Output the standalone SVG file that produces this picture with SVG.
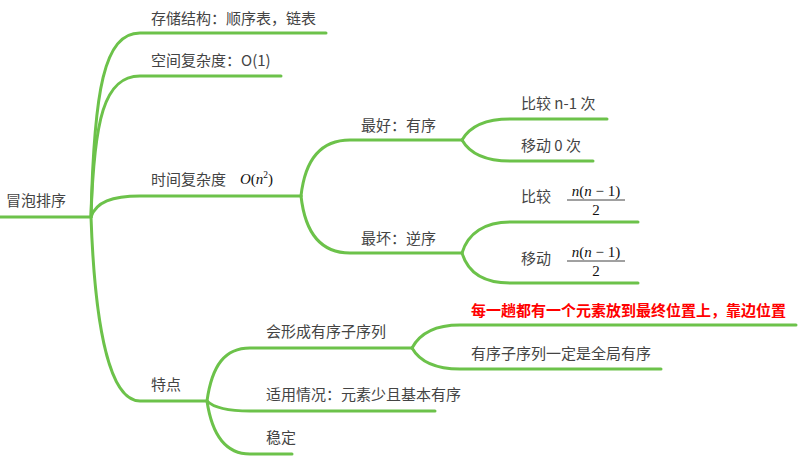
<svg xmlns="http://www.w3.org/2000/svg" width="801" height="464" viewBox="0 0 801 464">
<style>
.l{fill:none;stroke:#6cc24a;stroke-width:3;stroke-linecap:round}
.t{font-family:"Noto Sans CJK SC","Noto Sans",sans-serif;font-size:15px;fill:#444}
.r{font-family:"Noto Sans CJK SC","Noto Sans",sans-serif;font-size:15px;fill:#ff0000;font-weight:bold}
.m{font-family:"Liberation Serif","DejaVu Serif",serif;font-size:15px;fill:#111}
.mi{font-style:italic}
</style>
<rect width="801" height="464" fill="#ffffff"/>
<g id="connectors">
<path class="l" d="M0 217 H91"/>
<path class="l" d="M91 217 C94 90 104 33 140 33 H326"/>
<path class="l" d="M91 217 C94 120 104 76 140 76 H281"/>
<path class="l" d="M91 217 C96 202 112 196 140 196 H301"/>
<path class="l" d="M91 217 C95 330 110 401 140 401 H207"/>
<path class="l" d="M301 196 C305 160 320 140 350 140 H462"/>
<path class="l" d="M301 196 C305 232 320 253 350 253 H462"/>
<path class="l" d="M462 140 C470 126 485 119 510 119 H607"/>
<path class="l" d="M462 140 C470 154 485 161 510 161 H593"/>
<path class="l" d="M462 253 C468 233 485 222 510 222 H638"/>
<path class="l" d="M462 253 C468 273 485 283 510 283 H638"/>
<path class="l" d="M207 401 C212 365 225 348 250 348 H412"/>
<path class="l" d="M207 401 C214 408 228 411 250 411 H435"/>
<path class="l" d="M207 401 C212 435 225 454 250 454 H292"/>
<path class="l" d="M412 348 C420 333 435 325 460 325 H796"/>
<path class="l" d="M412 348 C420 362 435 369 460 369 H661"/>
</g>
<g id="root"><text class="t" x="6" y="206">冒泡排序</text></g>
<g id="n-storage"><text class="t" x="151" y="24">存储结构：顺序表，链表</text></g>
<g id="n-space"><text class="t" x="151" y="66">空间复杂度：O(1)</text></g>
<g id="n-time"><text class="t" x="151" y="185">时间复杂度</text>
<text class="m" x="240" y="184"><tspan class="mi">O</tspan>(<tspan class="mi">n</tspan><tspan font-size="9.5" dy="-6">2</tspan><tspan dy="6">)</tspan></text></g>
<g id="n-best"><text class="t" x="361" y="131">最好：有序</text></g>
<g id="n-worst"><text class="t" x="361" y="244">最坏：逆序</text></g>
<g id="n-best-cmp"><text class="t" x="521" y="109">比较 n-1 次</text></g>
<g id="n-best-mov"><text class="t" x="521" y="151">移动 0 次</text></g>
<g id="n-worst-cmp"><text class="t" x="521" y="202">比较</text>
<text class="m" x="596" y="196" text-anchor="middle"><tspan class="mi">n</tspan>(<tspan class="mi">n</tspan> − 1)</text>
<line x1="567" y1="200" x2="625" y2="200" stroke="#111" stroke-width="0.8"/>
<text class="m" x="596" y="215" text-anchor="middle">2</text></g>
<g id="n-worst-mov"><text class="t" x="521" y="264">移动</text>
<text class="m" x="596" y="257" text-anchor="middle"><tspan class="mi">n</tspan>(<tspan class="mi">n</tspan> − 1)</text>
<line x1="567" y1="261" x2="625" y2="261" stroke="#111" stroke-width="0.8"/>
<text class="m" x="596" y="276" text-anchor="middle">2</text></g>
<g id="n-feature"><text class="t" x="151" y="390">特点</text></g>
<g id="n-subseq"><text class="t" x="266" y="337">会形成有序子序列</text></g>
<g id="n-red"><text class="r" x="471" y="316">每一趟都有一个元素放到最终位置上，靠边位置</text></g>
<g id="n-global"><text class="t" x="471" y="359">有序子序列一定是全局有序</text></g>
<g id="n-usage"><text class="t" x="266" y="400">适用情况：元素少且基本有序</text></g>
<g id="n-stable"><text class="t" x="266" y="443">稳定</text></g>
</svg>
